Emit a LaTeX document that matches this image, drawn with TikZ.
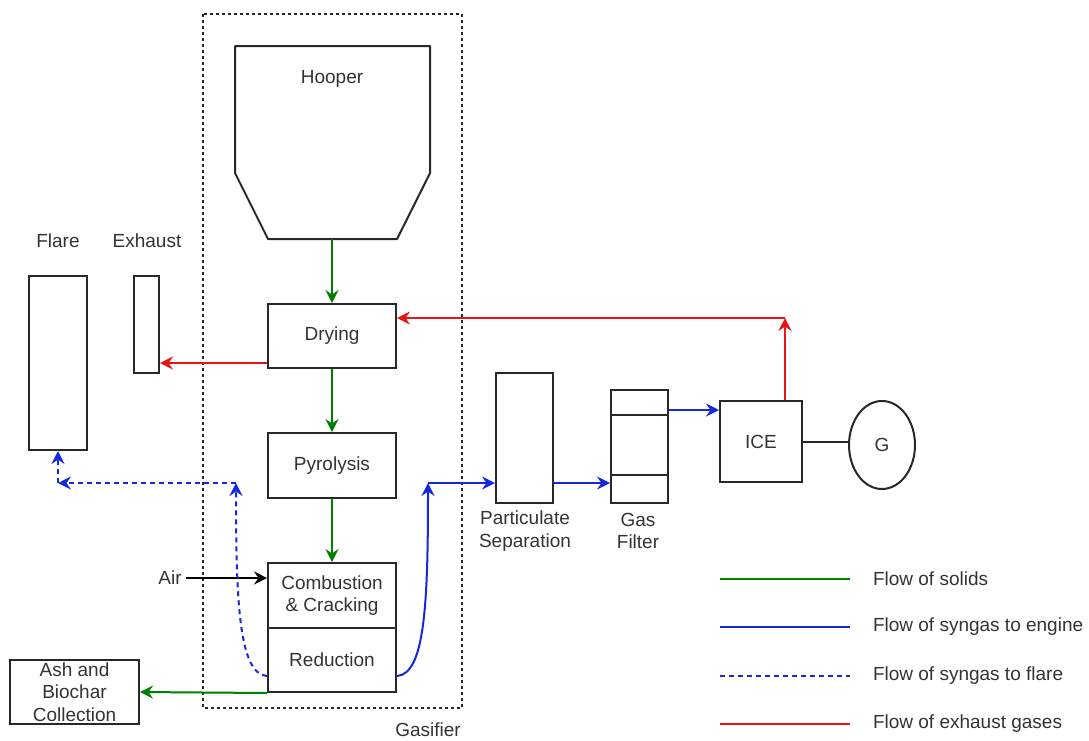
\documentclass[tikz,border=0pt]{standalone}
\usepackage{fontspec}
\setmainfont{Liberation Sans}
\usetikzlibrary{arrows.meta,shapes.geometric}
\definecolor{solidgreen}{RGB}{0,128,0}
\definecolor{syngasblue}{RGB}{20,40,220}
\definecolor{exhaustred}{RGB}{230,20,20}
\definecolor{edgegray}{RGB}{40,40,40}
\tikzset{
  flowtip/.tip={Stealth[length=13pt,width=13pt,inset=4.5pt]},
  unitbox/.style={draw=edgegray, line width=2pt, inner sep=0pt, align=center, text=black!80},
  label/.style={inner sep=0pt, align=center, text=black!80},
  unitline/.style={draw=edgegray, line width=2pt, line join=round},
  solidline/.style={draw=solidgreen, line width=2pt},
  syngasline/.style={draw=syngasblue, line width=2pt},
  flaregasline/.style={syngasline, dash pattern=on 5pt off 4pt},
  exhaustline/.style={draw=exhaustred, line width=2pt},
  solidflow/.style={solidline, -flowtip},
  syngasflow/.style={syngasline, -flowtip},
  flaregasflow/.style={flaregasline, -flowtip},
  exhaustflow/.style={exhaustline, -flowtip},
  airflow/.style={draw=black, line width=2pt, -flowtip}
}
\begin{document}
\begin{tikzpicture}[x=1pt, y=-1pt, font=\fontsize{19}{22.5}\selectfont]
	\useasboundingbox (0,0) rectangle (1089,740);
	
	% gasifier
	\draw[draw=edgegray, line width=1.6pt, dash pattern=on 3pt off 3pt] (203,14) rectangle (462,708);
	\node[label] (gaslabel) at (428,730) {Gasifier};
	
	% hopper
	\draw[unitline] (235,46) -- (430,46) -- (430,173) -- (397,239) -- (268,239) -- (235,173) -- cycle;
	\node[label] (hooper) at (332,79) {Hooper};
	\coordinate (hopperout) at (332,239);
	
	\node[unitbox, minimum width=128pt, minimum height=64pt] (drying) at (332,336) {Drying};
	\node[unitbox, minimum width=128pt, minimum height=65pt] (pyrolysis) at (332,465.5) {Pyrolysis};
	\node[unitbox, minimum width=128pt, minimum height=65pt] (combustion) at (332,595.5) {Combustion\\\& Cracking};
	\node[unitbox, minimum width=128pt, minimum height=64pt] (reduction) at (332,660) {Reduction};
	
	% left side
	\node[unitbox, minimum width=58pt, minimum height=174pt] (flare) at (58,363) {};
	\node[label] (flarelabel) at (58,241) {Flare};
	\node[unitbox, minimum width=25pt, minimum height=97pt] (exhaust) at (146.5,324.5) {};
	\node[label] (exhaustlabel) at (147,241) {Exhaust};
	\node[unitbox, minimum width=129pt, minimum height=64pt] (ash) at (74.5,692) {Ash and\\Biochar\\Collection};
	\node[label] (air) at (170,578) {Air};
	
	% gas cleaning and engine
	\node[unitbox, minimum width=57pt, minimum height=130pt] (particulate) at (524.5,438) {};
	\node[label] (partlabel) at (525,531) {Particulate\\Separation};
	\node[unitbox, minimum width=57pt, minimum height=113pt] (filter) at (639.5,446.5) {};
	\draw[unitline] ([yshift=-26pt]filter.north west) -- ([yshift=-26pt]filter.north east);
	\draw[unitline] ([yshift=-86pt]filter.north west) -- ([yshift=-86pt]filter.north east);
	\node[label] (filterlabel) at (638,531) {Gas\\Filter};
	\node[unitbox, minimum width=82pt, minimum height=81pt] (ice) at (761,441.5) {ICE};
	\node[unitbox, ellipse, minimum width=66pt, minimum height=88pt] (gen) at (882,445) {G};
	\draw[unitline] (ice.east) -- (ice.east -| gen.west);
	
	% solids
	\draw[solidflow] (hopperout) -- (drying);
	\draw[solidflow] (drying) -- (pyrolysis);
	\draw[solidflow] (pyrolysis) -- (combustion);
	\draw[solidflow] (reduction.south west) -- (ash.east);
	\draw[airflow] (air.east) ++(4,0) -- (air.east -| combustion.west);
	
	% syngas
	\coordinate (synup) at (428,483);
	\draw[syngasflow] ([yshift=-16pt]reduction.east) .. controls +(28,-2) and +(0,120) .. (synup);
	\draw[syngasflow] (synup) -- (synup -| particulate.west);
	\draw[syngasflow] (particulate.east |- synup) -- (filter.west |- synup);
	\coordinate (iceinlet) at ([yshift=31.5pt]ice.west);
	\draw[syngasflow] (filter.east |- iceinlet) -- (iceinlet);
	
	% syngas to flare
	\coordinate (flareup) at (236,483);
	\coordinate (flareturn) at (flare.south |- flareup);
	\draw[flaregasflow] ([yshift=-16pt]reduction.west) .. controls +(-28,-2) and +(0,120) .. (flareup);
	\draw[flaregasflow] (flareup) -- (flareturn);
	\draw[flaregasflow] (flareturn) -- (flare.south);
	
	% exhaust gases
	\coordinate (dryout) at ([yshift=-27pt]drying.west);
	\draw[exhaustflow] (dryout) -- (dryout -| exhaust.east);
	\coordinate (exturn) at (785,318);
	\draw[exhaustflow] (exturn |- ice.north) -- (exturn);
	\draw[exhaustflow] (exturn) -- (exturn -| drying.east);
	
	% legend
	\foreach \yy/\sty/\txt in {579/solidline/Flow of solids, 627/syngasline/Flow of syngas to engine, 676/flaregasline/Flow of syngas to flare, 724/exhaustline/Flow of exhaust gases}
		\draw[\sty] (720,\yy) -- (850,\yy) node[label, anchor=west, xshift=22pt] (legend\yy) {\txt};
\end{tikzpicture}
\end{document}
